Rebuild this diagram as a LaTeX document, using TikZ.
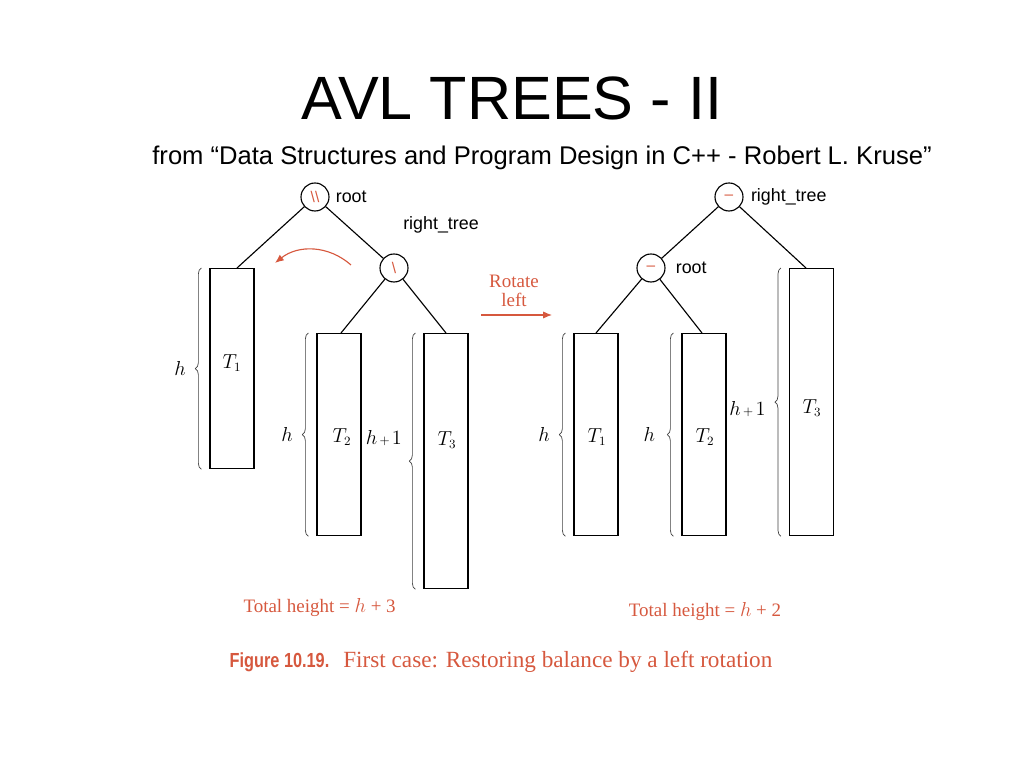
\documentclass[tikz,border=0pt]{standalone}
\usepackage{fontspec}
\setmainfont{Liberation Serif}
\setsansfont{Liberation Sans}
\newfontfamily\figfont[FakeStretch=0.8]{Liberation Sans}
\usetikzlibrary{decorations.pathreplacing,arrows.meta,positioning}
\definecolor{avlred}{RGB}{214,88,62}
\newcommand{\hplus}{$h\mkern2mu{\scriptstyle+}\mkern2mu1$}

\begin{document}
\begin{tikzpicture}[
    every node/.style = {inner sep = 0pt},
    bal/.style = {draw, circle, minimum size = 0.7cm, line width = 0.8pt,
      text = avlred, font = \sffamily\fontsize{11}{11}\selectfont},
    sub/.style = {draw, rectangle, minimum width = 1.1cm, line width = 0.9pt, anchor = north},
    edge/.style = {line width = 0.8pt},
    lbl/.style = {font = \sffamily\fontsize{12.7}{14}\selectfont},
    ht/.style = {font = \fontsize{13.5}{13}\selectfont},
    hbrace/.style = {decorate, decoration = {brace, amplitude = 0.15cm},
      line width = 0.5pt, color = black!75},
    redarrow/.style = {color = avlred, line width = 0.8pt, -{Latex[length = 2.2mm, width = 1.8mm]}}
  ]
    \useasboundingbox (0, 0) rectangle (25.6, 19.2);

    \coordinate (swingS) at (8.775, 12.575);
    \coordinate (swingE) at (6.875, 12.625);

    \coordinate (rotS) at (12.025, 11.325);
    \coordinate (rotE) at (13.8, 11.325);

    \node[font = \sffamily\fontsize{43.5}{50}\selectfont, anchor = base] (title) at (12.8, 16.2) {AVL TREES - II};
    \node[font = \sffamily\fontsize{18.2}{22}\selectfont, anchor = base] (source) at (13.55, 15.08)
      {from “Data Structures and Program Design in C++ - Robert L. Kruse”};

    % before the rotation
    \node[bal] (rootA) at (7.875, 14.275) {\textbackslash\textbackslash};
    \node[bal] (rightA) at (9.85, 12.5) {\textbackslash};
    \node[lbl, right = 0.15cm of rootA] (rootAlbl) {root};
    \node[lbl] (rightAlbl) at (11.025, 13.575) {right\_tree};

    \node[sub, minimum height = 5cm] (T1A) at (5.8, 12.5) {};
    \node[sub, minimum height = 5.05cm] (T2A) at (8.475, 10.875) {};
    \node[sub, minimum height = 6.375cm] (T3A) at (11.15, 10.875) {};

    \node[ht] (T1Alab) at (5.8, 10.125) {$T_1$};
    \node[ht] (T2Alab) at (8.55, 8.275) {$T_2$};
    \node[ht] (T3Alab) at (11.175, 8.2) {$T_3$};

    \draw[edge] (rootA) -- ([xshift = 0.125cm]T1A.north);
    \draw[edge] (rootA) -- (rightA);
    \draw[edge] (rightA) -- ([xshift = 0.05cm]T2A.north);
    \draw[edge] (rightA) -- (T3A.north);

    \draw[hbrace] ([xshift = -0.2cm]T1A.south west) -- ([xshift = -0.2cm]T1A.north west)
      node[midway, left = 0.38cm, ht, color = black] (hT1A) {$h$};
    \draw[hbrace] ([xshift = -0.2cm]T2A.south west) -- ([xshift = -0.2cm]T2A.north west)
      node[midway, left = 0.38cm, ht, color = black] (hT2A) {$h$};
    \draw[hbrace] ([xshift = -0.2cm]T3A.south west) -- ([xshift = -0.2cm]T3A.north west)
      node[pos = 0.59, left = 0.33cm, ht, color = black] (hT3A) {\hplus};

    \draw[redarrow] (swingS) to[bend right = 40] (swingE);

    \node[ht, text = avlred, align = center] (rotlbl) at (12.85, 11.925) {Rotate\\left};
    \draw[redarrow] (rotS) -- (rotE);

    % after the rotation
    \node[bal] (rightB) at (18.225, 14.275) {\textendash};
    \node[bal] (rootB) at (16.275, 12.5) {\textendash};
    \node[lbl, right = 0.18cm of rightB] (rightBlbl) {right\_tree};
    \node[lbl, right = 0.25cm of rootB] (rootBlbl) {root};

    \node[sub, minimum height = 5.05cm] (T1B) at (14.9, 10.875) {};
    \node[sub, minimum height = 5.05cm] (T2B) at (17.6, 10.875) {};
    \node[sub, minimum height = 6.675cm] (T3B) at (20.29, 12.5) {};

    \node[ht] (T1Blab) at (14.925, 8.275) {$T_1$};
    \node[ht] (T2Blab) at (17.625, 8.275) {$T_2$};
    \node[ht] (T3Blab) at (20.3, 9.0) {$T_3$};

    \draw[edge] (rightB) -- (rootB);
    \draw[edge] (rightB) -- ([xshift = -0.14cm]T3B.north);
    \draw[edge] (rootB) -- (T1B.north);
    \draw[edge] (rootB) -- ([xshift = -0.05cm]T2B.north);

    \draw[hbrace] ([xshift = -0.2cm]T1B.south west) -- ([xshift = -0.2cm]T1B.north west)
      node[midway, left = 0.38cm, ht, color = black] (hT1B) {$h$};
    \draw[hbrace] ([xshift = -0.2cm]T2B.south west) -- ([xshift = -0.2cm]T2B.north west)
      node[midway, left = 0.45cm, ht, color = black] (hT2B) {$h$};
    \draw[hbrace] ([xshift = -0.2cm]T3B.south west) -- ([xshift = -0.2cm]T3B.north west)
      node[pos = 0.476, left = 0.38cm, ht, color = black] (hT3B) {\hplus};

    \node[ht, text = avlred] (totA) at (7.99, 4.0) {Total height = $h$ + 3};
    \node[ht, text = avlred] (totB) at (17.625, 3.9) {Total height = $h$ + 2};

    \node[text = avlred, font = \fontsize{16.5}{18}\selectfont] (caption) at (12.525, 2.65)
      {{\figfont\bfseries\fontsize{14.5}{16}\selectfont Figure 10.19.}\hspace{0.35cm}First case: Restoring balance by a left rotation};
  \end{tikzpicture}
\end{document}
